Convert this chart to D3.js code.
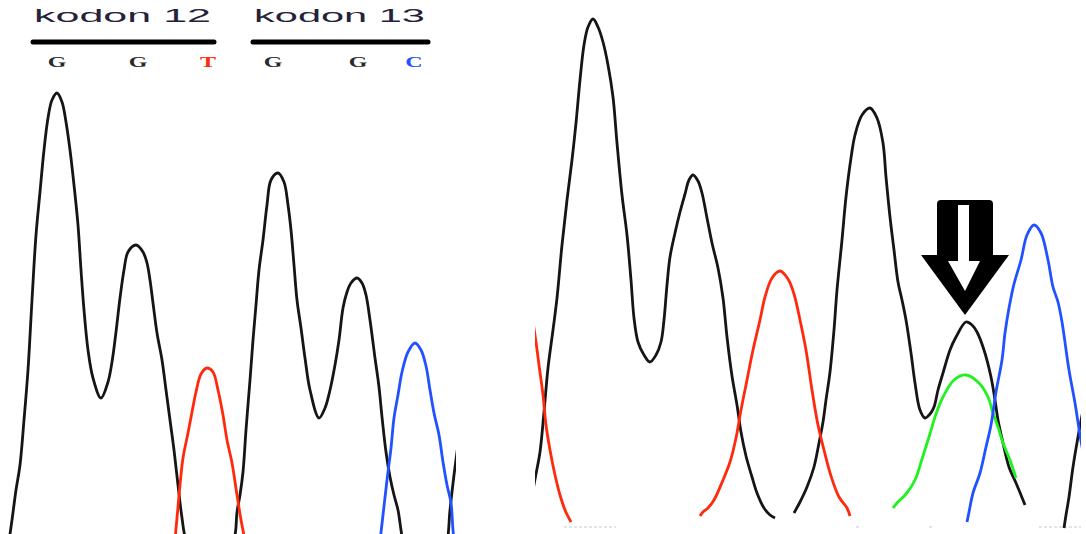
<!DOCTYPE html>
<html>
<head>
<meta charset="utf-8">
<script src="https://cdnjs.cloudflare.com/ajax/libs/d3/7.8.5/d3.min.js"></script>
<style>
  html, body { margin: 0; padding: 0; background: #fff; }
  #chart { width: 1086px; height: 534px; overflow: hidden; }
</style>
</head>
<body>
<div id="chart"></div>
<script>
// chromatogram traces, [scan, signal]
var leftBlack = [[3,-8],[7,20],[11,50],[15,75],[19,120],[23,170],[27,240],[31,305],[35,348],[39,390],[43,422],[47,440],[52,447],[57,438],[61,418],[65,390],[69,355],[73,315],[76,270],[79,230],[83,190],[88,162],[96,142],[103,158],[107,178],[111,208],[115,242],[119,270],[123,288],[131,295],[138,288],[142,277],[145,260],[148,237],[152,207],[157,180],[161,150],[165,120],[169,90],[173,55],[177,22],[181,0],[205,-50],[229,0],[232,28],[235,45],[238,68],[241,110],[245,160],[248,200],[251,235],[254,270],[258,300],[262,335],[266,360],[273,367],[279,358],[283,335],[286,310],[289,275],[292,240],[296,212],[300,182],[305,150],[314,122],[320,132],[325,150],[330,175],[334,200],[338,232],[342,248],[346,257],[352,262],[357,257],[361,245],[365,220],[370,182],[374,153],[377,123],[381,88],[385,63],[389,45],[393,30],[396,10],[399,-8],[420,-60],[441,-8],[445,30],[449,65],[455,110]];
var leftRed = [[169,-10],[172,22],[175,55],[178,82],[183,107],[187,128],[191,148],[196,166],[202,172],[208,168],[213,150],[218,125],[222,100],[227,77],[232,45],[236,20],[240,0]];
var leftBlue = [[374,-10],[378,25],[382,60],[386,92],[389,122],[393,145],[397,168],[403,188],[410,197],[416,190],[421,174],[425,150],[429,127],[434,105],[438,78],[442,55],[446,37],[448,10],[450,-8]];

var rightRed1 = [[-7,250],[-3,225],[1,198],[4,175],[8,145],[11,115],[15,90],[20,65],[25,45],[30,30],[36,18]];
var rightBlack1 = [[-2,50],[1,66],[5,88],[9,128],[13,172],[18,210],[22,242],[27,295],[32,340],[37,380],[41,417],[45,460],[49,495],[53,513],[58,521],[63,513],[68,498],[73,475],[78,443],[82,397],[87,345],[92,305],[96,260],[99,222],[103,198],[109,185],[115,178],[121,185],[126,198],[129,220],[132,255],[135,283],[140,307],[145,328],[150,346],[154,360],[158,365],[163,359],[167,347],[172,322],[177,297],[183,272],[188,242],[192,203],[197,164],[202,135],[206,108],[211,84],[217,63],[222,47],[229,32],[235,25],[240,22]];
var rightBlack2 = [[259,27],[265,38],[272,53],[279,73],[284,97],[288,118],[291,140],[295,168],[299,210],[302,250],[307,300],[311,343],[316,382],[320,405],[327,425],[335,432],[342,422],[348,397],[351,363],[355,323],[359,290],[363,258],[367,240],[371,220],[376,187],[380,157],[385,130],[390,122],[395,126],[399,133],[403,150],[408,167],[415,190],[421,203],[431,218],[437,215],[442,208],[449,190],[456,163],[460,140],[463,120],[468,97],[474,73],[481,57],[486,45],[490,35]];
var rightBlack3 = [[529,12],[531,25],[534,43],[538,73],[543,103],[550,140]];
var rightRed2 = [[165,24],[168,28],[173,32],[179,40],[188,60],[195,78],[201,102],[206,130],[211,155],[218,190],[225,220],[230,243],[237,262],[245,269],[253,261],[259,246],[265,220],[271,190],[277,150],[283,115],[289,90],[296,64],[304,43],[312,32],[315,24]];
var rightGreen = [[358,32],[362,37],[371,46],[380,60],[387,81],[394,103],[401,126],[408,143],[419,160],[431,165],[444,157],[453,143],[458,127],[463,113],[468,97],[475,80],[481,62]];
var rightBlue = [[432,18],[434,28],[438,47],[445,67],[451,93],[456,115],[461,148],[467,180],[470,207],[474,232],[479,256],[486,280],[492,305],[499,315],[506,307],[513,280],[518,253],[523,238],[527,218],[534,170],[540,137],[545,105],[553,60]];

// base calls and codons of the left panel
var baseLabels = ["G", "G", "T", "G", "G", "C"];
var baseScans = [52, 133, 203, 268, 353, 409];
var baseColors = ["black", "black", "red", "black", "black", "blue"];
var codonLabels = ["kodon 12", "kodon 13"];
var codonStart = [28, 248];
var codonEnd = [209, 423];

// mutation arrow in the right panel
var arrowScan = 430;
var arrowSignal = 225;

// faint axis remnants at the bottom of the right panel
var axisMarks = [[29, 81], [321, 325], [394, 398], [504, 546]];

var colors = { black: "#151515", red: "#ff2a0c", blue: "#2152ff", green: "#1ff21f" };

var W = 1086, H = 534;

var xL = d3.scaleLinear().domain([0, 450]).range([5, 455]);
var xR = d3.scaleLinear().domain([0, 550]).range([535, 1085]);
var y = d3.scaleLinear().domain([0, 540]).range([540, 0]);

var svg = d3.select("#chart")
  .append("svg")
  .attr("width", W)
  .attr("height", H)
  .style("font-family", "'Liberation Sans', Arial, sans-serif");

var defs = svg.append("defs");
defs.append("clipPath").attr("id", "clipL")
  .append("rect").attr("x", 8).attr("y", 0).attr("width", 448).attr("height", H);
defs.append("clipPath").attr("id", "clipR")
  .append("rect").attr("x", 535).attr("y", 0).attr("width", 1081 - 535).attr("height", H);

function drawTrace(g, data, xs, color) {
  var line = d3.line()
    .x(function(d) { return xs(d[0]); })
    .y(function(d) { return y(d[1]); })
    .curve(d3.curveCatmullRom.alpha(0.5));
  g.append("path")
    .datum(data)
    .attr("d", line)
    .attr("fill", "none")
    .attr("stroke", colors[color])
    .attr("stroke-width", 2.8)
    .attr("stroke-linejoin", "round");
}

// left panel
var gL = svg.append("g").attr("clip-path", "url(#clipL)");
drawTrace(gL, leftBlack, xL, "black");
drawTrace(gL, leftRed, xL, "red");
drawTrace(gL, leftBlue, xL, "blue");

// right panel
var gR = svg.append("g").attr("clip-path", "url(#clipR)");
gR.selectAll("line.axis").data(axisMarks).enter().append("line")
  .attr("class", "axis")
  .attr("x1", function(d) { return xR(d[0]); })
  .attr("x2", function(d) { return xR(d[1]); })
  .attr("y1", 527).attr("y2", 527)
  .attr("stroke", "#e4e4e4")
  .attr("stroke-width", 2)
  .attr("stroke-dasharray", "3,2");
drawTrace(gR, rightBlack1, xR, "black");
drawTrace(gR, rightBlack2, xR, "black");
drawTrace(gR, rightBlack3, xR, "black");
drawTrace(gR, rightRed1, xR, "red");
drawTrace(gR, rightRed2, xR, "red");
drawTrace(gR, rightGreen, xR, "green");
drawTrace(gR, rightBlue, xR, "blue");

// arrow pointing at the mixed peak
var ax = xR(arrowScan), ay = y(arrowSignal);
var arrow = svg.append("g").attr("transform", "translate(" + ax + "," + ay + ")");
arrow.append("path")
  .attr("d", "M-28,-60 L-28,-111 Q-28,-115 -24,-115 L24,-115 Q28,-115 28,-111 L28,-60 L44,-60 L0,0 L-44,-60 Z")
  .attr("fill", "#000");
arrow.append("path")
  .attr("d", "M-7,-110 L4,-110 L4,-54 L15,-54 L0,-24 L-17,-54 L-7,-54 Z")
  .attr("fill", "#fff");

// codon headers
codonLabels.forEach(function(label, i) {
  var x0 = xL(codonStart[i]), x1 = xL(codonEnd[i]);
  svg.append("text")
    .attr("x", x0 + 1)
    .attr("y", 22)
    .attr("textLength", x1 - x0 - 4)
    .attr("lengthAdjust", "spacingAndGlyphs")
    .style("font-size", "19px")
    .style("fill", "#26223a")
    .text(label);
  svg.append("line")
    .attr("x1", x0).attr("x2", x1)
    .attr("y1", 42).attr("y2", 42)
    .attr("stroke", "#000")
    .attr("stroke-width", 5)
    .attr("stroke-linecap", "round");
});

// base calls
baseLabels.forEach(function(b, i) {
  svg.append("text")
    .attr("transform", "translate(" + xL(baseScans[i]) + ",67) scale(1.6,1)")
    .attr("text-anchor", "middle")
    .style("font-family", "'Liberation Serif', 'Times New Roman', serif")
    .style("font-weight", "bold")
    .style("font-size", "15px")
    .style("fill", baseColors[i] == "black" ? "#2a2a2a" : colors[baseColors[i]])
    .text(b);
});
</script>
</body>
</html>
